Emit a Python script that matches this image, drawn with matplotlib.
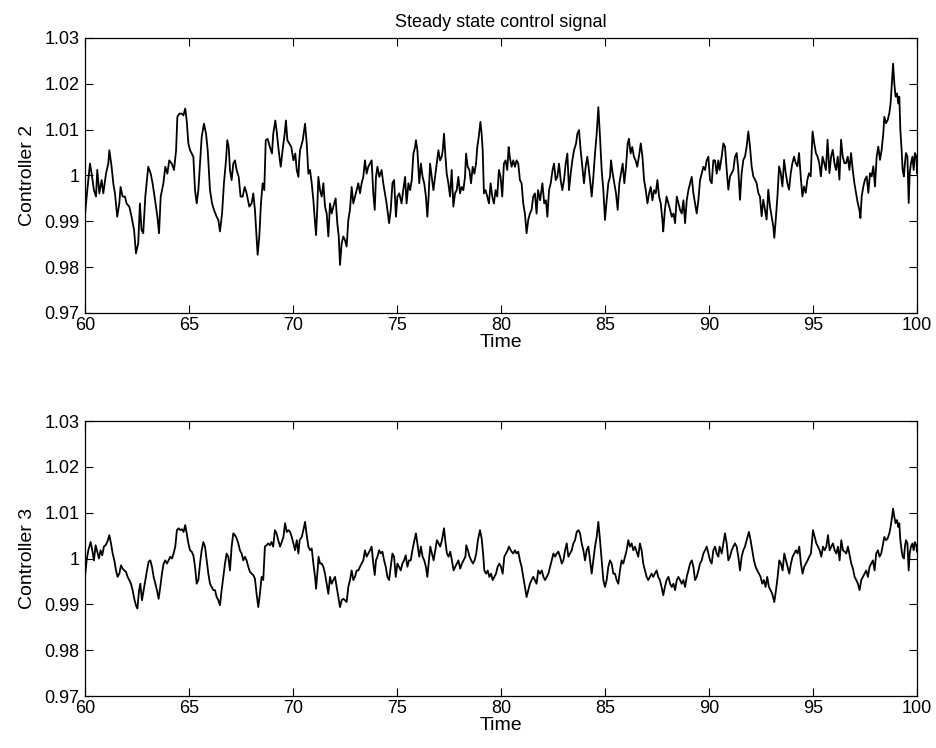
import matplotlib
matplotlib.use("Agg")
import matplotlib.pyplot as plt
from matplotlib.ticker import FixedLocator

# ---------------- data ----------------
c2_t = [60.00, 60.11, 60.24, 60.32, 60.43, 60.53, 60.59, 60.69, 60.80, 60.88, 61.01, 61.12, 61.17, 61.28, 61.36,
        61.44, 61.55, 61.65, 61.71, 61.81, 61.92, 62.00, 62.13, 62.24, 62.36, 62.45, 62.56, 62.64, 62.72, 62.80,
        62.90, 63.04, 63.16, 63.25, 63.37, 63.48, 63.56, 63.64, 63.77, 63.86, 63.96, 64.05, 64.17, 64.28, 64.38,
        64.44, 64.54, 64.65, 64.73, 64.82, 64.89, 64.97, 65.05, 65.13, 65.21, 65.29, 65.37, 65.45, 65.53, 65.61,
        65.72, 65.82, 65.90, 66.01, 66.11, 66.20, 66.33, 66.41, 66.49, 66.59, 66.68, 66.78, 66.84, 66.91, 66.97,
        67.05, 67.13, 67.21, 67.29, 67.39, 67.48, 67.58, 67.68, 67.77, 67.90, 68.01, 68.09, 68.17, 68.25, 68.30,
        68.38, 68.46, 68.54, 68.62, 68.69, 68.78, 68.89, 68.99, 69.05, 69.15, 69.21, 69.31, 69.41, 69.50, 69.60,
        69.66, 69.73, 69.82, 69.92, 70.02, 70.11, 70.18, 70.26, 70.30,
        70.34, 70.47, 70.58, 70.66, 70.74, 70.82, 70.90, 70.98, 71.06, 71.11, 71.17, 71.22, 71.30, 71.38, 71.46,
        71.54, 71.62, 71.70, 71.78, 71.86, 71.94, 72.05, 72.13, 72.20, 72.26, 72.34, 72.42, 72.50, 72.58, 72.66,
        72.74, 72.82, 72.90, 72.98, 73.06, 73.14, 73.22, 73.30, 73.38, 73.46, 73.54, 73.62, 73.70, 73.78, 73.86,
        73.93, 73.99, 74.06, 74.15, 74.26, 74.34, 74.42, 74.50, 74.62, 74.70, 74.78, 74.86, 74.95, 75.02, 75.11,
        75.22, 75.30, 75.39, 75.46, 75.55, 75.63, 75.71, 75.79, 75.87, 75.91, 75.98, 76.07, 76.15, 76.23, 76.31,
        76.39, 76.46, 76.52, 76.59, 76.67, 76.75, 76.83, 76.91, 76.99, 77.07, 77.15, 77.20, 77.26, 77.32, 77.39,
        77.47, 77.55, 77.63, 77.71, 77.79, 77.87, 77.95, 78.03, 78.11, 78.19, 78.27, 78.32, 78.40, 78.48, 78.56,
        78.64, 78.72, 78.80, 78.86, 78.93, 79.01, 79.07, 79.12, 79.18, 79.26, 79.34, 79.42, 79.50, 79.58, 79.66,
        79.74, 79.82, 79.90, 79.98, 80.06, 80.14, 80.22, 80.30, 80.37, 80.42,
        80.51, 80.59, 80.67, 80.75, 80.83, 80.91, 80.99, 81.07, 81.15, 81.23, 81.31, 81.39, 81.47, 81.55, 81.63,
        81.71, 81.78, 81.88, 81.99, 82.08, 82.16, 82.23, 82.31, 82.39, 82.48, 82.55, 82.63, 82.71, 82.79, 82.87,
        82.95, 83.03, 83.11, 83.19, 83.27, 83.35, 83.43, 83.51, 83.61, 83.67, 83.75, 83.83, 83.91, 83.99, 84.07,
        84.15, 84.21, 84.28, 84.36, 84.44, 84.52, 84.60, 84.68, 84.76, 84.84, 84.92, 85.00, 85.08, 85.16, 85.24,
        85.29, 85.37, 85.45, 85.53, 85.61, 85.69, 85.77, 85.85, 85.93, 86.01, 86.09, 86.15, 86.23, 86.31, 86.39,
        86.47, 86.55, 86.63, 86.72, 86.80, 86.88, 86.96, 87.04, 87.12, 87.20, 87.28, 87.36, 87.44, 87.52, 87.60,
        87.68, 87.76, 87.80, 87.88, 87.96, 88.05, 88.13, 88.21, 88.29, 88.37, 88.45, 88.53, 88.61, 88.69, 88.77,
        88.85, 88.93, 89.01, 89.09, 89.17, 89.25, 89.33, 89.41, 89.49, 89.57, 89.65, 89.73, 89.81, 89.89, 89.97,
        90.05, 90.13, 90.21, 90.29, 90.37, 90.45, 90.51,
        90.61, 90.69, 90.77, 90.85, 90.93, 91.01, 91.09, 91.17, 91.25, 91.33, 91.41, 91.49, 91.57, 91.65, 91.73,
        91.81, 91.89, 91.97, 92.05, 92.13, 92.21, 92.29, 92.37, 92.45, 92.53, 92.61, 92.69, 92.77, 92.85, 92.93,
        93.01, 93.09, 93.14, 93.21, 93.29, 93.37, 93.45, 93.53, 93.61, 93.69, 93.77, 93.85, 93.93, 94.01, 94.09,
        94.17, 94.25, 94.33, 94.41, 94.49, 94.57, 94.65, 94.73, 94.81, 94.89, 94.94, 94.98, 95.06, 95.14, 95.22,
        95.30, 95.38, 95.46, 95.54, 95.62, 95.70, 95.79, 95.87, 95.95, 96.03, 96.11, 96.19, 96.27, 96.35, 96.43,
        96.51, 96.59, 96.67, 96.75, 96.83, 96.91, 96.99, 97.07, 97.15, 97.23, 97.28, 97.34, 97.42, 97.50, 97.58,
        97.66, 97.74, 97.82, 97.90, 97.98, 98.06, 98.14, 98.22, 98.30, 98.38, 98.43, 98.51, 98.59, 98.67, 98.73,
        98.80, 98.85, 98.91, 98.97, 99.04, 99.10, 99.15, 99.20, 99.26, 99.31, 99.37, 99.42, 99.47, 99.54, 99.60,
        99.65, 99.71, 99.78, 99.84, 99.90, 99.97, 100.00]

c2_v = [0.9914, 0.9968, 1.0026, 1.0004, 0.9968, 0.9954, 1.0012, 0.9961, 0.9990, 0.9961, 1.0004, 1.0026, 1.0055, 1.0019, 0.9983,
        0.9961, 0.9910, 0.9939, 0.9975, 0.9954, 0.9954, 0.9939, 0.9932, 0.9910, 0.9881, 0.9830, 0.9852, 0.9939, 0.9881, 0.9874,
        0.9954, 1.0019, 1.0004, 0.9983, 0.9946, 0.9910, 0.9874, 0.9954, 0.9983, 1.0019, 1.0004, 1.0033, 1.0026, 1.0012, 1.0055,
        1.0128, 1.0135, 1.0135, 1.0131, 1.0146, 1.0120, 1.0070, 1.0055, 1.0048, 1.0041, 0.9968, 0.9939, 0.9968, 1.0026, 1.0084,
        1.0113, 1.0091, 1.0055, 0.9968, 0.9939, 0.9925, 0.9910, 0.9903, 0.9878, 0.9917, 0.9983, 1.0033, 1.0077, 1.0062, 1.0012,
        0.9990, 1.0026, 1.0033, 1.0012, 0.9997, 0.9954, 0.9954, 0.9975, 0.9961, 0.9932, 0.9939, 0.9961, 0.9925, 0.9867, 0.9827,
        0.9867, 0.9939, 0.9983, 0.9968, 1.0077, 1.0080, 1.0062, 1.0048, 1.0091, 1.0120, 1.0099, 1.0055, 1.0019, 1.0055, 1.0091,
        1.0120, 1.0077, 1.0070, 1.0062, 1.0033, 1.0048, 1.0012, 0.9997, 1.0033,
        1.0055, 1.0077, 1.0113, 1.0070, 1.0004, 1.0012, 0.9983, 0.9946, 0.9896, 0.9870, 0.9932, 0.9997, 0.9968, 0.9954, 0.9983,
        0.9932, 0.9917, 0.9867, 0.9939, 0.9917, 0.9932, 0.9950, 0.9896, 0.9867, 0.9805, 0.9852, 0.9867, 0.9859, 0.9845, 0.9903,
        0.9925, 0.9975, 0.9939, 0.9954, 0.9968, 0.9983, 0.9961, 0.9983, 0.9997, 1.0033, 1.0004, 1.0019, 1.0026, 1.0033, 0.9961,
        0.9925, 0.9997, 1.0019, 0.9997, 1.0012, 0.9983, 0.9961, 0.9939, 0.9896, 0.9925, 0.9983, 0.9990, 0.9910, 0.9954, 0.9961,
        0.9939, 0.9968, 0.9997, 0.9939, 0.9983, 0.9968, 0.9990, 1.0048, 1.0062, 1.0077, 1.0055, 0.9983, 1.0026, 0.9997, 0.9983,
        0.9954, 0.9910, 0.9954, 1.0026, 0.9997, 0.9968, 0.9997, 1.0026, 1.0055, 1.0033, 1.0041, 1.0055, 1.0091, 1.0048, 1.0004,
        0.9983, 0.9954, 1.0012, 0.9932, 0.9961, 0.9968, 0.9997, 0.9961, 0.9975, 0.9968, 0.9997, 1.0048, 1.0019, 1.0012, 0.9983,
        1.0019, 1.0004, 1.0026, 1.0062, 1.0084, 1.0117, 1.0091, 1.0055, 0.9961, 0.9968, 0.9954, 0.9939, 0.9983, 0.9954, 0.9939,
        0.9968, 0.9954, 1.0012, 0.9997, 0.9954, 1.0026, 1.0033, 1.0012, 1.0062, 1.0041,
        1.0019, 1.0033, 1.0019, 1.0033, 1.0026, 0.9990, 0.9983, 0.9939, 0.9917, 0.9874, 0.9903, 0.9917, 0.9925, 0.9954, 0.9961,
        0.9917, 0.9968, 0.9946, 0.9983, 0.9939, 0.9946, 0.9910, 0.9968, 0.9983, 1.0012, 1.0026, 0.9990, 0.9997, 1.0026, 0.9990,
        0.9968, 0.9990, 1.0026, 1.0048, 0.9968, 1.0004, 1.0033, 1.0055, 1.0070, 1.0091, 1.0099, 1.0055, 1.0019, 0.9983, 1.0019,
        1.0041, 1.0019, 0.9990, 0.9954, 0.9997, 1.0048, 1.0091, 1.0149, 1.0084, 1.0012, 0.9968, 0.9903, 0.9946, 0.9983, 0.9997,
        1.0033, 1.0004, 0.9983, 0.9961, 0.9925, 0.9983, 1.0004, 1.0026, 0.9983, 1.0019, 1.0070, 1.0080, 1.0048, 1.0062, 1.0041,
        1.0033, 1.0019, 1.0041, 1.0070, 1.0041, 0.9990, 0.9968, 0.9939, 0.9961, 0.9975, 0.9946, 0.9968, 0.9961, 0.9990, 0.9954,
        0.9939, 0.9903, 0.9878, 0.9925, 0.9954, 0.9939, 0.9925, 0.9910, 0.9917, 0.9896, 0.9954, 0.9939, 0.9925, 0.9917, 0.9946,
        0.9896, 0.9946, 0.9968, 0.9983, 0.9997, 0.9961, 0.9939, 0.9917, 0.9946, 0.9990, 1.0004, 1.0019, 1.0012, 1.0033, 1.0041,
        0.9990, 0.9983, 1.0033, 1.0033, 1.0004, 1.0033, 1.0012,
        1.0041, 1.0070, 1.0063, 1.0012, 0.9969, 0.9998, 1.0005, 1.0012, 1.0041, 1.0049, 1.0012, 0.9947, 1.0005, 1.0034, 1.0041,
        1.0063, 1.0096, 1.0063, 1.0020, 0.9998, 0.9991, 0.9983, 0.9962, 0.9954, 0.9911, 0.9947, 0.9925, 0.9904, 0.9969, 0.9933,
        0.9911, 0.9889, 0.9864, 0.9904, 0.9954, 1.0020, 1.0005, 0.9976, 1.0034, 1.0005, 0.9983, 0.9969, 1.0005, 1.0027, 1.0041,
        1.0027, 1.0020, 1.0049, 0.9998, 0.9954, 0.9976, 0.9962, 0.9991, 1.0005, 0.9998, 1.0056, 1.0096, 1.0070, 1.0049, 1.0041,
        1.0027, 0.9998, 1.0041, 1.0027, 1.0012, 1.0078, 1.0005, 1.0041, 1.0056, 1.0027, 1.0012, 1.0041, 0.9991, 1.0078, 1.0041,
        1.0027, 1.0027, 1.0041, 1.0012, 1.0049, 1.0012, 0.9983, 0.9962, 0.9940, 0.9925, 0.9907, 0.9954, 0.9976, 0.9991, 0.9998,
        0.9962, 1.0005, 0.9998, 1.0020, 0.9976, 1.0041, 1.0063, 1.0034, 1.0056, 1.0092, 1.0128, 1.0114, 1.0121, 1.0136, 1.0157,
        1.0208, 1.0244, 1.0201, 1.0172, 1.0179, 1.0157, 1.0172, 1.0099, 1.0056, 1.0012, 0.9998, 1.0027, 1.0049, 1.0041, 0.9940,
        1.0005, 1.0027, 1.0041, 1.0012, 1.0049, 1.0041, 1.0005]

c3_t = [60.00, 60.08, 60.16, 60.27, 60.35, 60.43, 60.51, 60.59, 60.67, 60.75, 60.83, 60.91, 60.99, 61.07, 61.17,
        61.25, 61.33, 61.41, 61.49, 61.57, 61.65, 61.73, 61.81, 61.89, 61.97, 62.05, 62.13, 62.21, 62.29, 62.37,
        62.45, 62.52, 62.60, 62.66, 62.74, 62.82, 62.90, 62.98, 63.06, 63.14, 63.22, 63.30, 63.38, 63.46, 63.54,
        63.62, 63.70, 63.78, 63.86, 63.94, 64.02, 64.10, 64.18, 64.26, 64.34, 64.42, 64.50, 64.58, 64.66, 64.74,
        64.82, 64.89, 64.97, 65.05, 65.13, 65.21, 65.29, 65.37, 65.45, 65.53, 65.61, 65.69, 65.77, 65.85, 65.93,
        66.01, 66.09, 66.17, 66.25, 66.33, 66.41, 66.49, 66.57, 66.65, 66.73, 66.81, 66.89, 66.97, 67.05, 67.13,
        67.21, 67.29, 67.37, 67.45, 67.53, 67.61, 67.69, 67.77, 67.85, 67.93, 68.01, 68.09, 68.17, 68.25, 68.33,
        68.41, 68.49, 68.57, 68.65, 68.73, 68.81, 68.89, 68.97, 69.05, 69.13, 69.21, 69.29, 69.38, 69.46, 69.54,
        69.62, 69.70, 69.78, 69.86, 69.94, 70.02, 70.10, 70.18, 70.26, 70.32,
        70.42, 70.50, 70.58, 70.66, 70.74, 70.82, 70.90, 70.98, 71.06, 71.11, 71.17, 71.23, 71.30, 71.38, 71.46,
        71.54, 71.62, 71.70, 71.78, 71.86, 71.94, 72.02, 72.10, 72.18, 72.26, 72.34, 72.42, 72.50, 72.58, 72.66,
        72.74, 72.82, 72.90, 72.98, 73.06, 73.14, 73.22, 73.30, 73.38, 73.46, 73.54, 73.62, 73.70, 73.78, 73.86,
        73.93, 73.99, 74.06, 74.14, 74.22, 74.30, 74.38, 74.46, 74.54, 74.62, 74.70, 74.78, 74.86, 74.94, 75.02,
        75.10, 75.18, 75.26, 75.34, 75.42, 75.50, 75.58, 75.66, 75.74, 75.82, 75.91, 75.98, 76.07, 76.15, 76.23,
        76.31, 76.39, 76.46, 76.52, 76.60, 76.68, 76.76, 76.84, 76.92, 77.00, 77.08, 77.16, 77.26, 77.32, 77.40,
        77.48, 77.56, 77.64, 77.72, 77.80, 77.88, 77.95, 78.04, 78.12, 78.20, 78.29, 78.33, 78.41, 78.49, 78.57,
        78.65, 78.73, 78.81, 78.89, 78.99, 79.07, 79.14, 79.20, 79.28, 79.36, 79.44, 79.52, 79.60, 79.68, 79.76,
        79.84, 79.92, 80.00, 80.08, 80.16, 80.24, 80.32, 80.38,
        80.51, 80.59, 80.67, 80.75, 80.83, 80.91, 80.99, 81.07, 81.15, 81.23, 81.31, 81.39, 81.47, 81.55, 81.63,
        81.71, 81.79, 81.88, 81.96, 82.04, 82.12, 82.20, 82.28, 82.36, 82.44, 82.52, 82.60, 82.68, 82.76, 82.84,
        82.92, 83.00, 83.08, 83.16, 83.24, 83.32, 83.40, 83.48, 83.56, 83.64, 83.72, 83.80, 83.88, 83.96, 84.04,
        84.12, 84.20, 84.28, 84.36, 84.44, 84.52, 84.60, 84.68, 84.76, 84.84, 84.92, 85.00, 85.08, 85.16, 85.24,
        85.32, 85.40, 85.48, 85.56, 85.64, 85.72, 85.80, 85.88, 85.96, 86.04, 86.12, 86.20, 86.28, 86.36, 86.44,
        86.52, 86.60, 86.68, 86.76, 86.84, 86.92, 87.00, 87.08, 87.16, 87.24, 87.32, 87.40, 87.48, 87.56, 87.64,
        87.72, 87.80, 87.88, 87.96, 88.05, 88.13, 88.21, 88.29, 88.37, 88.45, 88.53, 88.61, 88.69, 88.77, 88.85,
        88.93, 89.01, 89.09, 89.17, 89.25, 89.33, 89.41, 89.49, 89.57, 89.65, 89.73, 89.81, 89.89, 89.97, 90.05,
        90.13, 90.21, 90.29, 90.37, 90.45, 90.51,
        90.61, 90.69, 90.77, 90.85, 90.93, 91.01, 91.09, 91.17, 91.25, 91.33, 91.41, 91.49, 91.57, 91.65, 91.73,
        91.81, 91.92, 92.00, 92.08, 92.16, 92.24, 92.32, 92.40, 92.48, 92.56, 92.64, 92.72, 92.80, 92.88, 92.96,
        93.04, 93.14, 93.22, 93.30, 93.38, 93.46, 93.54, 93.62, 93.70, 93.78, 93.86, 93.94, 94.02, 94.10, 94.18,
        94.26, 94.34, 94.42, 94.50, 94.58, 94.66, 94.74, 94.82, 94.90, 94.95, 95.00, 95.08, 95.16, 95.24, 95.32,
        95.40, 95.48, 95.56, 95.64, 95.72, 95.80, 95.88, 95.96, 96.04, 96.12, 96.20, 96.28, 96.36, 96.44, 96.52,
        96.60, 96.68, 96.76, 96.84, 96.92, 97.00, 97.08, 97.16, 97.24, 97.32, 97.40, 97.48, 97.56, 97.64, 97.72,
        97.80, 97.88, 97.96, 98.04, 98.12, 98.20, 98.28, 98.37, 98.43, 98.51, 98.59, 98.67, 98.73, 98.80, 98.85,
        98.91, 98.97, 99.04, 99.10, 99.15, 99.20, 99.26, 99.31, 99.37, 99.42, 99.47, 99.54, 99.60, 99.65, 99.71,
        99.78, 99.84, 99.90, 99.97, 100.00]

c3_v = [0.9960, 0.9996, 1.0018, 1.0036, 1.0018, 0.9996, 1.0029, 1.0015, 1.0000, 1.0018, 1.0007, 1.0026, 1.0029, 1.0036, 1.0051,
        1.0033, 1.0011, 0.9996, 0.9974, 0.9960, 0.9967, 0.9985, 0.9978, 0.9974, 0.9971, 0.9960, 0.9953, 0.9945, 0.9931, 0.9912,
        0.9898, 0.9891, 0.9931, 0.9945, 0.9909, 0.9931, 0.9953, 0.9974, 0.9993, 0.9996, 0.9982, 0.9960, 0.9945, 0.9931, 0.9912,
        0.9938, 0.9967, 0.9989, 0.9996, 0.9989, 0.9996, 1.0004, 1.0000, 1.0011, 1.0026, 1.0062, 1.0066, 1.0062, 1.0064, 1.0058,
        1.0073, 1.0055, 1.0033, 1.0018, 1.0015, 1.0007, 0.9982, 0.9945, 0.9953, 0.9989, 1.0018, 1.0036, 1.0026, 0.9996, 0.9967,
        0.9945, 0.9938, 0.9931, 0.9931, 0.9916, 0.9909, 0.9898, 0.9931, 0.9960, 0.9989, 1.0011, 1.0004, 0.9974, 1.0026, 1.0055,
        1.0051, 1.0044, 1.0033, 1.0018, 1.0011, 0.9996, 1.0004, 0.9996, 0.9982, 0.9971, 0.9967, 0.9964, 0.9956, 0.9923, 0.9894,
        0.9923, 0.9960, 0.9953, 1.0026, 1.0029, 1.0033, 1.0029, 1.0036, 1.0026, 1.0062, 1.0055, 1.0040, 1.0026, 1.0036, 1.0047,
        1.0077, 1.0058, 1.0062, 1.0058, 1.0047, 1.0033, 1.0018, 1.0040, 1.0011, 1.0040,
        1.0047, 1.0062, 1.0080, 1.0051, 1.0026, 1.0018, 1.0022, 0.9989, 0.9960, 0.9934, 0.9967, 1.0004, 0.9989, 0.9989, 0.9982,
        0.9967, 0.9945, 0.9923, 0.9960, 0.9945, 0.9953, 0.9960, 0.9938, 0.9916, 0.9894, 0.9909, 0.9912, 0.9909, 0.9905, 0.9938,
        0.9953, 0.9974, 0.9953, 0.9960, 0.9974, 0.9974, 0.9982, 0.9989, 0.9996, 1.0018, 1.0004, 1.0011, 1.0018, 1.0026, 0.9989,
        0.9964, 0.9996, 1.0004, 1.0018, 1.0011, 1.0015, 0.9996, 0.9982, 0.9960, 0.9953, 0.9982, 1.0011, 1.0004, 0.9960, 0.9989,
        0.9982, 0.9974, 0.9989, 0.9996, 1.0007, 0.9982, 0.9996, 0.9996, 1.0018, 1.0036, 1.0055, 1.0033, 1.0004, 1.0026, 1.0004,
        0.9996, 0.9982, 0.9960, 0.9989, 1.0026, 1.0011, 0.9996, 1.0018, 1.0040, 1.0033, 1.0026, 1.0040, 1.0066, 1.0040, 1.0011,
        1.0004, 1.0015, 0.9996, 0.9974, 0.9982, 0.9989, 0.9996, 0.9978, 0.9989, 0.9996, 1.0004, 1.0029, 1.0018, 1.0004, 0.9996,
        0.9989, 0.9996, 1.0011, 1.0040, 1.0062, 1.0044, 1.0011, 0.9974, 0.9967, 0.9974, 0.9960, 0.9967, 0.9953, 0.9960, 0.9967,
        0.9982, 0.9989, 0.9982, 0.9967, 1.0004, 1.0011, 1.0018, 1.0026,
        1.0015, 1.0011, 1.0018, 1.0011, 1.0015, 0.9996, 0.9982, 0.9960, 0.9938, 0.9916, 0.9931, 0.9945, 0.9953, 0.9960, 0.9953,
        0.9945, 0.9974, 0.9967, 0.9974, 0.9960, 0.9953, 0.9960, 0.9967, 0.9982, 0.9996, 1.0011, 1.0004, 1.0011, 1.0015, 1.0004,
        0.9989, 0.9996, 1.0018, 1.0033, 1.0004, 1.0011, 1.0018, 1.0033, 1.0040, 1.0058, 1.0062, 1.0055, 1.0033, 1.0018, 0.9996,
        1.0018, 1.0026, 0.9996, 0.9967, 0.9996, 1.0026, 1.0047, 1.0080, 1.0040, 0.9996, 0.9953, 0.9938, 0.9953, 0.9982, 0.9996,
        0.9989, 0.9967, 0.9967, 0.9953, 0.9945, 0.9974, 0.9996, 0.9989, 1.0004, 1.0018, 1.0040, 1.0026, 1.0033, 1.0018, 1.0026,
        1.0015, 1.0004, 1.0033, 1.0018, 0.9989, 0.9974, 0.9960, 0.9953, 0.9960, 0.9967, 0.9960, 0.9967, 0.9974, 0.9960, 0.9953,
        0.9938, 0.9920, 0.9938, 0.9953, 0.9960, 0.9945, 0.9938, 0.9945, 0.9931, 0.9953, 0.9960, 0.9953, 0.9945, 0.9953, 0.9938,
        0.9960, 0.9974, 0.9989, 0.9996, 0.9982, 0.9953, 0.9960, 0.9974, 0.9989, 0.9996, 1.0011, 1.0018, 1.0026, 1.0011, 0.9996,
        0.9989, 1.0018, 1.0026, 1.0011, 1.0004, 1.0026,
        1.0011, 1.0033, 1.0055, 1.0033, 0.9996, 1.0004, 1.0018, 1.0026, 1.0033, 1.0026, 1.0004, 0.9974, 1.0004, 1.0018, 1.0026,
        1.0040, 1.0058, 1.0040, 1.0018, 0.9996, 0.9982, 0.9974, 0.9967, 0.9960, 0.9945, 0.9953, 0.9938, 0.9960, 0.9938, 0.9931,
        0.9923, 0.9905, 0.9931, 0.9960, 0.9996, 0.9989, 0.9974, 1.0011, 0.9996, 0.9982, 0.9967, 0.9989, 1.0004, 1.0011, 1.0018,
        1.0011, 1.0026, 0.9989, 0.9967, 0.9982, 0.9989, 0.9996, 1.0004, 1.0011, 1.0036, 1.0062, 1.0047, 1.0033, 1.0026, 1.0018,
        1.0004, 1.0026, 1.0018, 1.0026, 1.0051, 1.0018, 1.0026, 1.0033, 1.0018, 1.0011, 1.0026, 0.9996, 1.0040, 1.0018, 1.0015,
        1.0011, 1.0026, 1.0007, 0.9989, 0.9978, 0.9960, 0.9953, 0.9945, 0.9931, 0.9953, 0.9960, 0.9967, 0.9974, 0.9960, 0.9982,
        0.9989, 0.9996, 0.9974, 1.0011, 1.0018, 1.0004, 1.0011, 1.0033, 1.0047, 1.0040, 1.0044, 1.0055, 1.0069, 1.0091, 1.0109,
        1.0091, 1.0077, 1.0084, 1.0069, 1.0077, 1.0040, 1.0018, 1.0004, 1.0000, 1.0026, 1.0040, 1.0033, 0.9974, 1.0011, 1.0026,
        1.0033, 1.0018, 1.0036, 1.0029, 1.0015]

x_ticks = [60, 65, 70, 75, 80, 85, 90, 95, 100]
y_ticks = [0.97, 0.98, 0.99, 1.00, 1.01, 1.02, 1.03]
y_tick_labels = ["0.97", "0.98", "0.99", "1", "1.01", "1.02", "1.03"]
title_text = "Steady state control signal"
x_label = "Time"
y_labels = ["Controller 2", "Controller 3"]

# ---------------- figure ----------------
plt.rcParams['font.family'] = ['Liberation Sans', 'DejaVu Sans']
fig = plt.figure(figsize=(9.36, 7.48), dpi=100)
ax_top = fig.add_axes([0.0908, 0.5816, 0.8889, 0.3676])
ax_bot = fig.add_axes([0.0908, 0.0695, 0.8889, 0.3676])

for ax, t, v, yl in [(ax_top, c2_t, c2_v, y_labels[0]), (ax_bot, c3_t, c3_v, y_labels[1])]:
    ax.plot(t, v, color='black', linewidth=1.3)
    ax.set_xlim(60, 100)
    ax.set_ylim(0.97, 1.03)
    ax.xaxis.set_major_locator(FixedLocator(x_ticks))
    ax.set_xticklabels([str(x) for x in x_ticks])
    ax.yaxis.set_major_locator(FixedLocator(y_ticks))
    ax.set_yticklabels(y_tick_labels)
    ax.tick_params(direction='in', length=6, width=0.8, top=True, right=True,
                   labelsize=13, colors='black')
    ax.tick_params(axis='x', pad=3)
    ax.tick_params(axis='y', pad=4)
    for sp in ax.spines.values():
        sp.set_linewidth(0.9)
    ax.set_xlabel(x_label, fontsize=14, labelpad=0)
    ax.set_ylabel(yl, fontsize=14, labelpad=6)

ax_top.set_title(title_text, fontsize=13, pad=8)

fig.savefig("out.png", dpi=100)
